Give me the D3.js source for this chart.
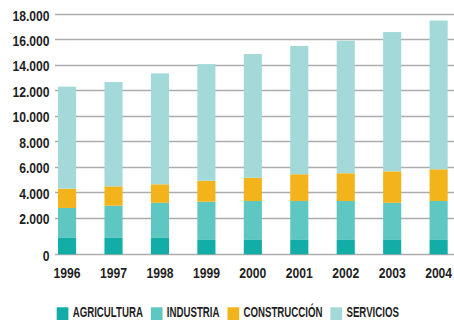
<!DOCTYPE html>
<html>
<head>
<meta charset="utf-8">
<script src="https://cdn.jsdelivr.net/npm/d3@7"></script>
<style>
  html, body { margin: 0; padding: 0; background: #fff; }
  svg { display: block; }
  text { font-family: "Liberation Sans", Arial, sans-serif; font-weight: bold; fill: #1f1f1f; }
</style>
</head>
<body>
<svg id="chart" width="454" height="320"></svg>
<script>
// Employment by sector (thousands), stacked per year
const years = ["1996", "1997", "1998", "1999", "2000", "2001", "2002", "2003", "2004"];
const agricultura    = [890, 890, 890, 780, 780, 780, 780, 780, 780];
const industria      = [1860, 2040, 2270, 2460, 2520, 2520, 2520, 2380, 2520];
const construccion   = [1520, 1520, 1450, 1650, 1820, 2100, 2180, 2470, 2490];
const servicios      = [8020, 8200, 8720, 9170, 9730, 10090, 10420, 10950, 11700];
const seriesNames    = ["AGRICULTURA", "INDUSTRIA", "CONSTRUCCIÓN", "SERVICIOS"];
const seriesColors   = ["#12ada6", "#5ec7c2", "#f2b31b", "#a3dad9"];
const yTicks         = [0, 2000, 4000, 6000, 8000, 10000, 12000, 14000, 16000, 18000];

const svg = d3.select("#chart");
const W = 454;
const condensed = 0.81; // horizontal squeeze for the condensed lettering

const rows = years.map((y, i) => ({
  year: y,
  AGRICULTURA: agricultura[i],
  INDUSTRIA: industria[i],
  "CONSTRUCCIÓN": construccion[i],
  SERVICIOS: servicios[i]
}));
const stacked = d3.stack().keys(seriesNames)(rows);

const x = d3.scaleBand()
  .domain(years)
  .range([55, 450.7])
  .paddingInner(0.61)
  .paddingOuter(0.065);

// the first step (0 to 2.000) is drawn taller than the rest
const y = d3.scaleLinear()
  .domain([0, 2000, 18000])
  .range([254.3, 217.5, 14]);

const fmt = v => d3.format(",")(v).replace(/,/g, ".");

// gridlines
svg.append("g")
  .selectAll("line")
  .data(yTicks)
  .join("line")
  .attr("x1", 55)
  .attr("x2", W)
  .attr("y1", d => Math.round(y(d)) + 0.5)
  .attr("y2", d => Math.round(y(d)) + 0.5)
  .attr("stroke", "#acacac")
  .attr("stroke-width", 1.3);

// y tick labels
svg.append("g")
  .selectAll("text")
  .data(yTicks)
  .join("text")
  .attr("transform", d => `translate(49.5,${y(d) + 6.6}) scale(${condensed},1)`)
  .attr("text-anchor", "end")
  .attr("font-size", 15)
  .text(d => fmt(d));

// stacked bars
svg.append("g")
  .selectAll("g")
  .data(stacked)
  .join("g")
  .attr("fill", (d, i) => seriesColors[i])
  .selectAll("rect")
  .data(d => d)
  .join("rect")
  .attr("x", d => x(d.data.year))
  .attr("width", x.bandwidth())
  .attr("y", d => y(d[1]))
  .attr("height", d => y(d[0]) - y(d[1]));

// year labels
svg.append("g")
  .selectAll("text")
  .data(years)
  .join("text")
  .attr("transform", d => `translate(${x(d) + x.bandwidth() / 2},277.8) scale(${condensed},1)`)
  .attr("text-anchor", "middle")
  .attr("font-size", 15)
  .text(d => d);

// legend, laid out left to right
const legend = svg.append("g");
const legendSqueeze = 0.645;
let lx = 56.7;
seriesNames.forEach((name, i) => {
  legend.append("rect")
    .attr("x", lx)
    .attr("y", 307.3)
    .attr("width", 11.7)
    .attr("height", 12.7)
    .attr("fill", seriesColors[i]);
  lx += 11.7 + 4.3;
  const t = legend.append("text")
    .attr("font-size", 15)
    .attr("transform", `translate(${lx},316.6) scale(${legendSqueeze},1)`)
    .text(name);
  const w = t.node().getComputedTextLength() * legendSqueeze;
  lx += w + 8;
});
</script>
</body>
</html>
